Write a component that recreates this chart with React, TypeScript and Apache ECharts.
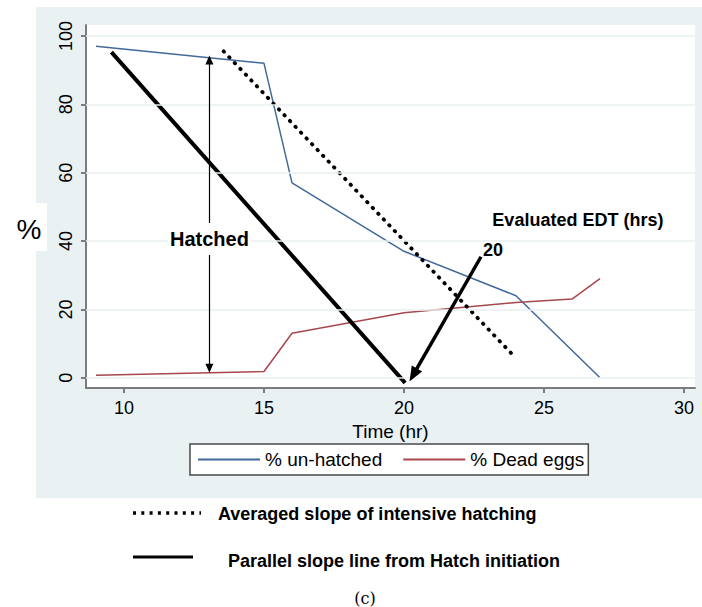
import React, { useEffect, useRef } from "react";
import * as echarts from "echarts";

// ---- data ----
const xTicks = [10, 15, 20, 25, 30];
const yTicks = [0, 20, 40, 60, 80, 100];
const unHatched: [number, number][] = [[9, 97], [15, 92], [16, 57], [20, 37], [24, 24], [27, 0]];
const deadEggs: [number, number][] = [[9, 0.7], [15, 1.8], [16, 13], [20, 19], [24, 22], [26, 23], [27, 29]];
const parallelSlope: [number, number][] = [[9.55, 95.3], [20.04, -1.5]];
const averagedSlope: [number, number][] = [[13.56, 95.5], [24.0, 5.7]];
const hatchedArrow: [number, number][] = [[13.05, 2.8], [13.05, 93]];
const edtArrow: [number, number][] = [[22.75, 35.4], [20.33, 0.8]];
const hatchedLabel = { text: "Hatched", x: 13.05, y: 40.6 };
const edtValueLabel = { text: "20", x: 23.18, y: 37.4 };
const edtTitleLabel = { text: "Evaluated EDT (hrs)", x: 26.21, y: 46.2 };
const seriesNames = ["% un-hatched", "% Dead eggs"];
const seriesColors = ["#41699a", "#a8474c"];
const keyTexts = ["Averaged slope of intensive hatching", "Parallel slope line from Hatch initiation"];
const caption = "(c)";

const FONT = '"Liberation Sans", Arial, Helvetica, sans-serif';

const labelStyle = (text: string, size: number, extra: any = {}) => ({
  show: true,
  position: "inside",
  formatter: text,
  fontSize: size,
  fontWeight: "bold",
  color: "#000",
  opacity: 1,
  fontFamily: FONT,
  textBorderWidth: 0,
  textBorderColor: "transparent",
  textShadowBlur: 0,
  ...extra,
});

export default function App() {
  const ref = useRef<HTMLDivElement>(null);
  useEffect(() => {
    if (!ref.current) return;
    const chart = echarts.init(ref.current, undefined, { renderer: "svg" });
    const option: any = {
      animation: false,
      backgroundColor: "#ffffff",
      textStyle: { fontFamily: FONT },
      grid: {
        left: 86,
        top: 25,
        width: 609,
        height: 363,
        show: true,
        backgroundColor: "#ffffff",
        borderWidth: 0,
        z: 0,
      },
      xAxis: {
        type: "value",
        min: 8.643,
        max: 30.393,
        name: "Time (hr)",
        nameLocation: "middle",
        nameGap: 30,
        nameTextStyle: { fontSize: 19, color: "#000", fontFamily: FONT },
        axisLine: { show: true, onZero: false, lineStyle: { color: "#7c7c7c", width: 2 } },
        axisTick: { show: true, length: 5, lineStyle: { color: "#7c7c7c", width: 2 }, customValues: xTicks },
        axisLabel: { fontSize: 18, color: "#000", margin: 11, customValues: xTicks, fontFamily: FONT },
        splitLine: { show: false },
      },
      yAxis: {
        type: "value",
        min: -3.01,
        max: 103.22,
        axisLine: { show: true, onZero: false, lineStyle: { color: "#7c7c7c", width: 2 } },
        axisTick: { show: true, length: 5, lineStyle: { color: "#7c7c7c", width: 2 }, customValues: yTicks },
        axisLabel: { fontSize: 18, color: "#000", margin: 11, rotate: 90, customValues: yTicks, fontFamily: FONT },
        splitLine: { show: false },
      },
      legend: {
        data: seriesNames.map((n, i) => ({ name: n, icon: "rect", itemStyle: { color: seriesColors[i] } })),
        left: 190,
        top: 444,
        orient: "horizontal",
        itemWidth: 62,
        itemHeight: 2,
        itemGap: 21,
        padding: [6, 4, 6, 8],
        backgroundColor: "#ffffff",
        borderColor: "#4a4a4a",
        borderWidth: 1.5,
        textStyle: { fontSize: 19, color: "#000", fontFamily: FONT },
      },
      graphic: [
        { type: "rect", z: -10, silent: true, shape: { x: 36, y: 7, width: 666, height: 491 }, style: { fill: "#e9f1f3" } },
        { type: "rect", z: 5, silent: true, shape: { x: 0, y: 203, width: 47, height: 48 }, style: { fill: "#ffffff" } },
        {
          type: "text", z: 6, x: 29, y: 229,
          style: { text: "%", font: `28px ${FONT}`, fill: "#000", textAlign: "center", textVerticalAlign: "middle" },
        },
        {
          type: "line", z: 6, shape: { x1: 133, y1: 513, x2: 201, y2: 513 },
          style: { stroke: "#000", lineWidth: 3.5, lineDash: [3, 5.3] },
        },
        {
          type: "text", z: 6, x: 218, y: 514,
          style: { text: keyTexts[0], font: `bold 18px ${FONT}`, fill: "#000", textAlign: "left", textVerticalAlign: "middle" },
        },
        {
          type: "line", z: 6, shape: { x1: 133, y1: 557, x2: 193, y2: 557 },
          style: { stroke: "#000", lineWidth: 3 },
        },
        {
          type: "text", z: 6, x: 228, y: 561,
          style: { text: keyTexts[1], font: `bold 18px ${FONT}`, fill: "#000", textAlign: "left", textVerticalAlign: "middle" },
        },
        {
          type: "text", z: 6, x: 365, y: 598,
          style: { text: caption, font: `16px "DejaVu Serif", "Liberation Serif", serif`, fill: "#000", textAlign: "center", textVerticalAlign: "middle" },
        },
      ],
      series: [
        {
          name: "grid",
          type: "line",
          data: [],
          silent: true,
          z: 1,
          markLine: {
            silent: true,
            symbol: ["none", "none"],
            label: { show: false },
            lineStyle: { color: "#e8f0f1", width: 1.5, type: "solid" },
            data: yTicks.map((v) => ({ yAxis: v })),
          },
        },
        {
          name: seriesNames[0],
          type: "line",
          data: unHatched,
          symbol: "none",
          z: 3,
          color: seriesColors[0],
          lineStyle: { color: seriesColors[0], width: 1.5 },
        },
        {
          name: seriesNames[1],
          type: "line",
          data: deadEggs,
          symbol: "none",
          z: 3,
          color: seriesColors[1],
          lineStyle: { color: seriesColors[1], width: 1.5 },
        },
        {
          name: "parallel",
          type: "line",
          data: parallelSlope,
          symbol: "none",
          z: 4,
          lineStyle: { color: "#000", width: 4 },
        },
        {
          name: "averaged",
          type: "line",
          data: averagedSlope,
          symbol: "none",
          z: 4,
          lineStyle: { color: "#000", width: 3.8, type: [0.5, 7.5], cap: "round" },
        },
        {
          name: "arrows",
          type: "line",
          data: [],
          z: 4,
          markLine: {
            silent: true,
            label: { show: false },
            data: [
              [
                { coord: hatchedArrow[0], symbol: "triangle", symbolSize: [8, 9] },
                { coord: hatchedArrow[1], symbol: "triangle", symbolSize: [8, 9] },
              ],
            ],
            lineStyle: { color: "#000", width: 1.2, type: "solid" },
            itemStyle: { color: "#000" },
          },
        },
        {
          name: "arrow2",
          type: "line",
          data: [],
          z: 4,
          markLine: {
            silent: true,
            label: { show: false },
            symbol: ["none", "triangle"],
            symbolSize: [12, 15],
            data: [[{ coord: edtArrow[0] }, { coord: edtArrow[1] }]],
            lineStyle: { color: "#000", width: 3.5, type: "solid" },
            itemStyle: { color: "#000" },
          },
        },
        {
          name: "labels",
          type: "scatter",
          z: 10,
          symbolSize: 0,
          silent: true,
          itemStyle: { color: "#000", opacity: 1 },
          data: [
            {
              value: [hatchedLabel.x, hatchedLabel.y],
              label: labelStyle(hatchedLabel.text, 20, { backgroundColor: "#ffffff", padding: [6, 2] }),
            },
            {
              value: [edtValueLabel.x, edtValueLabel.y],
              label: labelStyle(edtValueLabel.text, 18),
            },
            {
              value: [edtTitleLabel.x, edtTitleLabel.y],
              label: labelStyle(edtTitleLabel.text, 18),
            },
          ],
        },
      ],
    };
    chart.setOption(option);
    return () => chart.dispose();
  }, []);
  return (
    <div
      ref={ref}
      style={{ position: "fixed", left: 0, top: 0, width: 702, height: 607 }}
    />
  );
}
